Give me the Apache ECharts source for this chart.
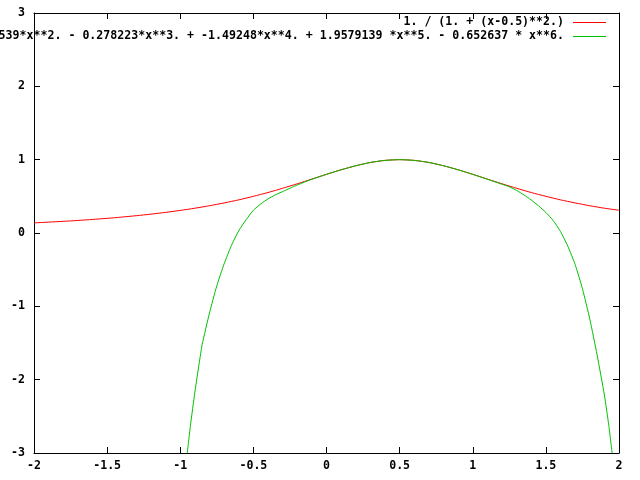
<!DOCTYPE html>
<html><head><meta charset="utf-8">
<script src="https://cdn.jsdelivr.net/npm/echarts@6/dist/echarts.min.js"></script>
<style>html,body{margin:0;padding:0;background:#fff}#c{width:640px;height:480px}</style>
</head><body><div id="c"></div>
<script>
const seriesNames = [
  "1. / (1. + (x-0.5)**2.)",
  "0.8 + 0.64*x + -0.164539*x**2. - 0.278223*x**3. + -1.49248*x**4. + 1.9579139 *x**5. - 0.652637 * x**6."
];
const redX = [-2,-1.9,-1.8,-1.7,-1.6,-1.5,-1.4,-1.3,-1.2,-1.1,-1,-0.9,-0.8,-0.7,-0.6,-0.5,-0.4,-0.3,-0.2,-0.1,0,0.1,0.2,0.3,0.4,0.5,0.6,0.7,0.8,0.9,1,1.1,1.2,1.3,1.4,1.5,1.6,1.7,1.8,1.9,2];
const redY = [0.138,0.148,0.159,0.171,0.185,0.2,0.217,0.236,0.257,0.281,0.308,0.338,0.372,0.41,0.452,0.5,0.552,0.61,0.671,0.735,0.8,0.862,0.917,0.962,0.99,1,0.99,0.962,0.917,0.862,0.8,0.735,0.671,0.61,0.552,0.5,0.452,0.41,0.372,0.338,0.31];
const greenX = [-0.952,-0.93,-0.9,-0.87,-0.85,-0.8,-0.75,-0.7,-0.65,-0.6,-0.55,-0.5,-0.45,-0.4,-0.35,-0.3,-0.25,-0.2,-0.1,0,0.1,0.2,0.3,0.4,0.5,0.6,0.7,0.8,0.9,1,1.1,1.2,1.25,1.3,1.35,1.4,1.45,1.5,1.55,1.6,1.65,1.7,1.75,1.8,1.85,1.9,1.93,1.953];
const greenY = [-3,-2.62,-2.17,-1.77,-1.52,-1.09,-0.72,-0.42,-0.17,0.03,0.18,0.31,0.395,0.465,0.52,0.565,0.61,0.655,0.733,0.8,0.862,0.917,0.962,0.99,1,0.99,0.962,0.917,0.862,0.8,0.733,0.665,0.63,0.58,0.52,0.45,0.37,0.28,0.17,0.02,-0.18,-0.43,-0.76,-1.17,-1.66,-2.21,-2.62,-3];
const xMin = -2, xMax = 2, xStep = 0.5;
const yMin = -3, yMax = 3, yStep = 1;
const colors = ['#ff0000', '#00c000'];

const font = {fontFamily: 'DejaVu Sans Mono', fontWeight: 'bold', fontSize: 11.6, color: '#000'};
const axisCommon = {
  axisLine: {show: true, onZero: false, lineStyle: {color: '#000', width: 1}},
  axisTick: {show: true, inside: true, length: 6, lineStyle: {color: '#000', width: 1}},
  splitLine: {show: false}
};
const chart = echarts.init(document.getElementById('c'), null, {renderer: 'canvas'});
chart.setOption({
  animation: false,
  backgroundColor: '#fff',
  grid: {left: 34, right: 21, top: 13, bottom: 27, containLabel: false},
  xAxis: [
    Object.assign({type: 'value', position: 'bottom', min: xMin, max: xMax, interval: xStep,
      axisLabel: Object.assign({margin: 7}, font)}, axisCommon),
    Object.assign({type: 'value', position: 'top', min: xMin, max: xMax, interval: xStep,
      axisLabel: {show: false}}, axisCommon)
  ],
  yAxis: [
    Object.assign({type: 'value', position: 'left', min: yMin, max: yMax, interval: yStep,
      axisLabel: Object.assign({margin: 9}, font)}, axisCommon),
    Object.assign({type: 'value', position: 'right', min: yMin, max: yMax, interval: yStep,
      axisLabel: {show: false}}, axisCommon)
  ],
  series: [
    {name: seriesNames[0], type: 'line', xAxisIndex: 0, yAxisIndex: 0, showSymbol: false, clip: true, smooth: 0.2,
      lineStyle: {color: colors[0], width: 1}, itemStyle: {color: colors[0]},
      data: redX.map((x, i) => [x, redY[i]])},
    {name: seriesNames[1], type: 'line', xAxisIndex: 0, yAxisIndex: 0, showSymbol: false, clip: true, smooth: 0.2,
      lineStyle: {color: colors[1], width: 1}, itemStyle: {color: colors[1]},
      data: greenX.map((x, i) => [x, greenY[i]])}
  ],
  graphic: [
    {type: 'text', x: 564, y: 16, style: {text: seriesNames[0], fill: '#000', textAlign: 'right', font: 'bold 11.6px "DejaVu Sans Mono"'}},
    {type: 'text', x: 564, y: 30, style: {text: seriesNames[1], fill: '#000', textAlign: 'right', font: 'bold 11.6px "DejaVu Sans Mono"'}},
    {type: 'line', shape: {x1: 573, y1: 22.5, x2: 606, y2: 22.5}, style: {stroke: colors[0], lineWidth: 1}},
    {type: 'line', shape: {x1: 573, y1: 36.5, x2: 606, y2: 36.5}, style: {stroke: colors[1], lineWidth: 1}}
  ]
});
</script></body></html>
